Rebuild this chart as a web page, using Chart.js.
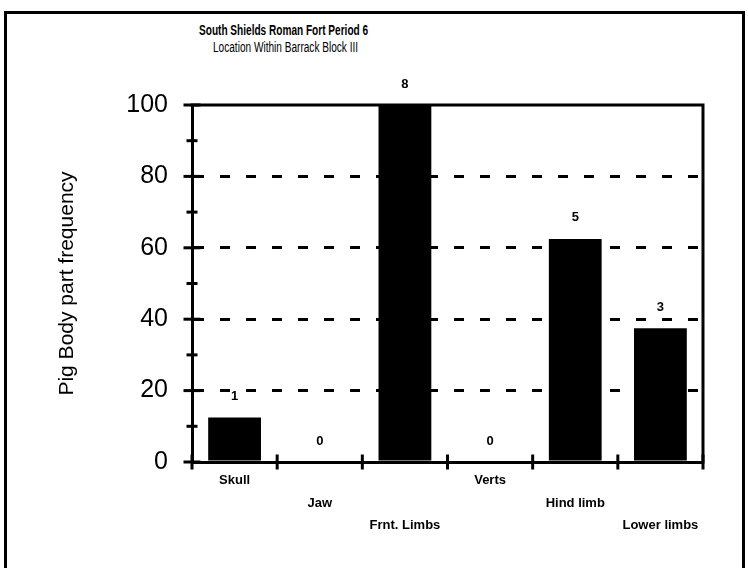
<!DOCTYPE html>
<html>
<head>
<meta charset="utf-8">
<title>Pig Body part frequency</title>
<script src="https://cdn.jsdelivr.net/npm/chart.js@4.4.1/dist/chart.umd.min.js"></script>
<style>
  html, body { margin: 0; padding: 0; background: #fff; }
  body {
    width: 748px; height: 568px; position: relative; overflow: hidden;
    font-family: "Liberation Sans", Arial, sans-serif; color: #000;
  }
  .frame {
    position: absolute; left: 4px; top: 11px; width: 741px; height: 640px;
    border: 3px solid #000; box-sizing: border-box;
  }
  /* narrow heading type */
  .heading {
    position: absolute; white-space: nowrap; line-height: 16px;
    font-size: 14px; transform: scaleX(0.72); transform-origin: left center;
  }
  #title { left: 199px; top: 22px; font-weight: bold; }
  #subtitle { left: 213px; top: 39px; }
  #wrap { position: absolute; left: 0; top: 0; width: 748px; height: 568px; }
</style>
</head>
<body>
<div class="frame"></div>
<div class="heading" id="title">South Shields Roman Fort Period 6</div>
<div class="heading" id="subtitle">Location Within Barrack Block III</div>
<div id="wrap"><canvas id="chart"></canvas></div>

<script>
// body parts along the x axis
const categories = ['Skull', 'Jaw', 'Frnt. Limbs', 'Verts', 'Hind limb', 'Lower limbs'];
// frequency (% of the largest group)
const frequency = [12.5, 0, 100, 0, 62.5, 37.5];
// fragment counts printed above each bar
const counts = [1, 0, 8, 0, 5, 3];
// labelled y ticks and the dashed levels
const yTicks = [0, 20, 40, 60, 80, 100];
const dashedLevels = [20, 40, 60, 80];

Chart.defaults.color = '#000';
Chart.defaults.font.family = '"Liberation Sans", Arial, sans-serif';

// box round the plot area plus tick marks that cross the axes
const axisMarks = {
    id: 'axisMarks',
    afterDraw(chart) {
        const { ctx, chartArea: area, scales: { x, y } } = chart;
        ctx.save();
        ctx.strokeStyle = '#000';
        ctx.lineWidth = 3;
        ctx.lineCap = 'square';

        ctx.beginPath();
        ctx.moveTo(area.left, area.top);
        ctx.lineTo(area.right, area.top);
        ctx.lineTo(area.right, area.bottom);
        ctx.stroke();

        // y ticks: long on the labelled values, short in between
        y.ticks.forEach(t => {
            const py = y.getPixelForValue(t.value);
            const half = yTicks.includes(t.value) ? 7 : 4;
            ctx.beginPath();
            ctx.moveTo(area.left - half, py);
            ctx.lineTo(area.left + half, py);
            ctx.stroke();
        });

        // x ticks on the category boundaries
        const step = x.getPixelForValue(1) - x.getPixelForValue(0);
        for (let i = 0; i <= categories.length; i++) {
            const px = x.getPixelForValue(0) - step / 2 + i * step;
            ctx.beginPath();
            ctx.moveTo(px, area.bottom - 6);
            ctx.lineTo(px, area.bottom + 6);
            ctx.stroke();
        }
        ctx.restore();
    }
};

// count above every bar
const countLabels = {
    id: 'countLabels',
    afterDatasetsDraw(chart) {
        const { ctx } = chart;
        const meta = chart.getDatasetMeta(0);
        ctx.save();
        ctx.fillStyle = '#000';
        ctx.font = 'bold 13px "Liberation Sans", Arial, sans-serif';
        ctx.textAlign = 'center';
        ctx.textBaseline = 'middle';
        meta.data.forEach((bar, i) => {
            ctx.fillText(String(counts[i]), bar.x, bar.y - 21);
        });
        ctx.restore();
    }
};

new Chart(document.getElementById('chart'), {
    type: 'bar',
    data: {
        labels: categories,
        datasets: [{
            data: frequency,
            backgroundColor: '#000',
            borderWidth: 0,
            barPercentage: 0.62,
            categoryPercentage: 1
        }]
    },
    options: {
        responsive: true,
        maintainAspectRatio: false,
        animation: false,
        layout: {
            padding: { top: 105, right: 45, left: 20, bottom: 0 }
        },
        plugins: {
            legend: { display: false },
            tooltip: { enabled: false }
        },
        scales: {
            x: {
                grid: { display: false },
                border: { display: true, color: '#000', width: 3 },
                ticks: {
                    autoSkip: false,
                    maxRotation: 0,
                    padding: -1,
                    font: { size: 13, weight: 'bold', lineHeight: 1.75 },
                    // stagger the names over three rows
                    callback: (v, i) => Array(i % 3).fill('').concat(categories[i])
                },
                afterFit: scale => { scale.height = 106; }
            },
            y: {
                min: 0,
                max: 100,
                ticks: {
                    stepSize: 10,
                    padding: 24,
                    font: { size: 25 },
                    callback: v => yTicks.includes(v) ? v : ''
                },
                grid: {
                    drawTicks: false,
                    lineWidth: 3,
                    color: c => dashedLevels.includes(c.tick.value) ? '#000' : 'rgba(0,0,0,0)'
                },
                border: { display: true, color: '#000', width: 3, dash: [10, 16] },
                title: {
                    display: true,
                    text: 'Pig Body part frequency',
                    font: { size: 21, lineHeight: 1.2 },
                    padding: { top: 35, bottom: 0 }
                },
                afterFit: scale => { scale.width = 172; }
            }
        }
    },
    plugins: [axisMarks, countLabels]
});
</script>
</body>
</html>
